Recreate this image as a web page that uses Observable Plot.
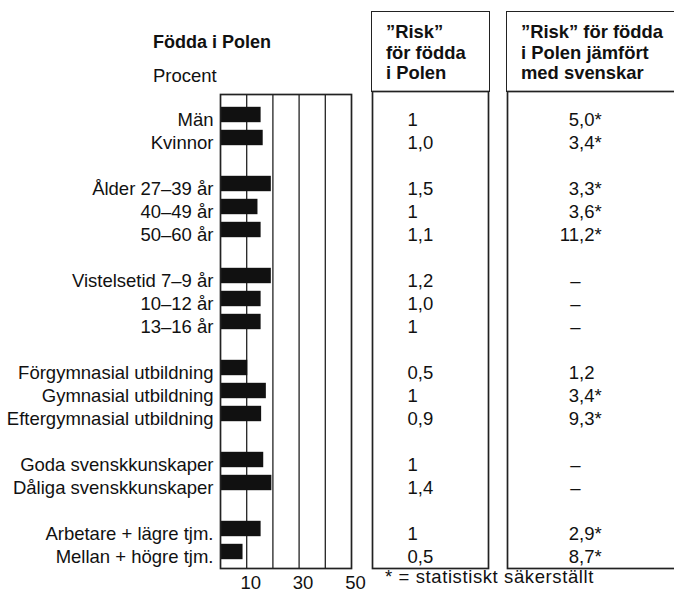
<!DOCTYPE html>
<html><head><meta charset="utf-8">
<script src="https://cdn.jsdelivr.net/npm/d3@7"></script>
<script src="https://cdn.jsdelivr.net/npm/@observablehq/plot@0.6"></script>
<style>
html,body{margin:0;padding:0;background:#fff;overflow:hidden}
#chart{position:relative;width:674px;height:594px;overflow:hidden;font-family:"Liberation Sans",Arial,sans-serif;color:#111}
.t{position:absolute;font-size:18px;line-height:18px;white-space:nowrap}
.b{font-weight:bold}
.foot{font-size:18.5px;letter-spacing:0.6px}
.hbox{position:absolute;border:1.6px solid #222;border-bottom:none;box-sizing:border-box;font-weight:bold;font-size:18.4px;line-height:20.5px;padding-top:10px;padding-left:14px;white-space:nowrap}
</style></head><body><div id="chart"></div>
<script>
const labels = ["Män","Kvinnor","Ålder 27–39 år","40–49 år","50–60 år","Vistelsetid 7–9 år","10–12 år","13–16 år","Förgymnasial utbildning","Gymnasial utbildning","Eftergymnasial utbildning","Goda svenskkunskaper","Dåliga svenskkunskaper","Arbetare + lägre tjm.","Mellan + högre tjm."];
const groupSizes = [2,3,3,3,2,2];
const percent = [15.5,16.3,19.4,14.3,15.5,19.4,15.5,15.5,10.4,17.5,15.7,16.5,19.6,15.5,8.6];
const riskPolen = ["1","1,0","1,5","1","1,1","1,2","1,0","1","0,5","1","0,9","1","1,4","1","0,5"];
const riskVsSwedes = ["5,0","3,4","3,3","3,6","11,2","–","–","–","1,2","3,4","9,3","–","–","2,9","8,7"];
const significant = [true,true,true,true,true,false,false,false,false,true,true,false,false,true,true];
const xTicks = [10,30,50];
const gridValues = [10,20,30,40];
const titleText = "Födda i Polen";
const unitText = "Procent";
const colBHeader = ["”Risk”","för födda","i Polen"];
const colCHeader = ["”Risk” för födda","i Polen jämfört","med svenskar"];
const footnoteText = "* = statistiskt säkerställt";

const rows = labels.map((label,i)=>({label, percent: percent[i], riskPolen: riskPolen[i], vs: riskVsSwedes[i], sig: significant[i], dash: riskVsSwedes[i]==="–"}));
const slots = []; let k = 0;
groupSizes.forEach((n,g)=>{ if(g>0) slots.push("gap"+g); for(let j=0;j<n;j++) slots.push(labels[k++]); });

const font = '"Liberation Sans", Arial, sans-serif';
const fs = 18.5;
const baseStyle = {fontFamily: font, fontSize: fs+"px", color: "#111", background: "transparent", overflow: "visible"};
const yScale = () => ({type: "band", domain: slots, range: [101.4, 574.6], padding: 0});
const lineColor = "#222";

const chart = document.getElementById("chart");
function place(el, left){ el.style.position="absolute"; el.style.left=left+"px"; el.style.top="0px"; chart.appendChild(el); }

const plotA = Plot.plot({
  width: 366, height: 594, marginLeft: 220, marginRight: 15, marginTop: 94, marginBottom: 26,
  style: baseStyle,
  x: {domain: [0,50]},
  y: yScale(),
  marks: [
    Plot.ruleX(gridValues, {stroke: lineColor, strokeWidth: 1.3}),
    Plot.barX(rows, {x: "percent", y: "label", fill: "#111", insetTop: -1.2, insetBottom: 8.8}),
    Plot.frame({stroke: lineColor, strokeWidth: 1.7}),
    Plot.axisX({ticks: xTicks, tickSize: 0, tickPadding: 7, fontSize: fs, label: null, dx: 4}),
    Plot.axisY({tickSize: 0, tickPadding: 7, fontSize: fs, label: null, tickFormat: d => d.startsWith("gap") ? "" : d})
  ]
});
place(plotA, 0);

const plotB = Plot.plot({
  width: 119, height: 594, marginLeft: 1, marginRight: 2, marginTop: 91, marginBottom: 26,
  style: baseStyle,
  y: {...yScale(), axis: null},
  marks: [
    Plot.frame({stroke: lineColor, strokeWidth: 1.7}),
    Plot.text(rows, {y: "label", text: "riskPolen", frameAnchor: "left", textAnchor: "start", dx: 35, fontSize: fs, fill: "#111"})
  ]
});
place(plotB, 371);

const plotC = Plot.plot({
  width: 190, height: 594, marginLeft: 1, marginRight: 10, marginTop: 91, marginBottom: 26,
  style: baseStyle,
  y: {...yScale(), axis: null},
  marks: [
    Plot.frame({stroke: lineColor, strokeWidth: 1.7}),
    Plot.text(rows.filter(d=>!d.dash), {y: "label", text: "vs", frameAnchor: "left", textAnchor: "end", dx: 87, fontSize: fs, fill: "#111"}),
    Plot.text(rows.filter(d=>d.sig), {y: "label", text: () => "*", frameAnchor: "left", textAnchor: "start", dx: 87, fontSize: fs, fill: "#111"}),
    Plot.text(rows.filter(d=>d.dash), {y: "label", text: "vs", frameAnchor: "left", textAnchor: "middle", dx: 68, fontSize: fs, fill: "#111"})
  ]
});
place(plotC, 506);

function addDiv(cls, left, top, html, extra){ const d=document.createElement("div"); d.className=cls; d.style.left=left+"px"; d.style.top=top+"px"; if(extra) Object.assign(d.style, extra); d.innerHTML=html; chart.appendChild(d); }
addDiv("t b", 153, 33, titleText);
addDiv("t", 153, 67, unitText, {fontSize: fs+"px"});
addDiv("hbox", 371, 11, colBHeader.join("<br>"), {width:"119px", height:"81px"});
addDiv("hbox", 506, 11, colCHeader.join("<br>"), {width:"200px", height:"81px"});
addDiv("t foot", 385, 568, footnoteText);
</script></body></html>
